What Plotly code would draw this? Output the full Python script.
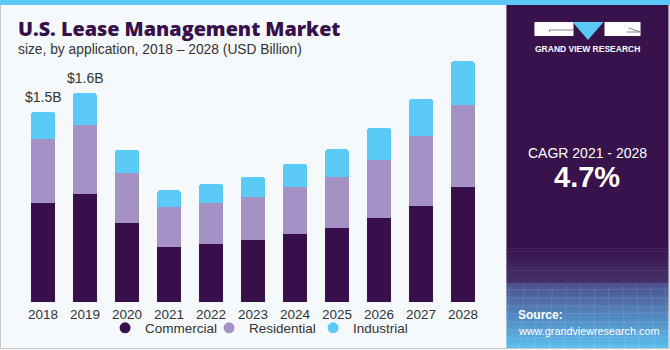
import plotly.graph_objects as go

years = ["2018", "2019", "2020", "2021", "2022", "2023", "2024", "2025", "2026", "2027", "2028"]
commercial = [0.782, 0.849, 0.623, 0.436, 0.455, 0.489, 0.536, 0.583, 0.664, 0.759, 0.906]
residential = [0.503, 0.546, 0.394, 0.310, 0.325, 0.338, 0.368, 0.402, 0.455, 0.549, 0.646]
industrial = [0.215, 0.250, 0.181, 0.134, 0.148, 0.160, 0.186, 0.218, 0.255, 0.294, 0.345]
total_labels = ["$1.5B", "$1.6B", "", "", "", "", "", "", "", "", ""]

C_COM = "#37104B"
C_RES = "#A592C5"
C_IND = "#5CCAF6"
BG = "#F5F9FC"
TXT = "#333333"

WIDTH, HEIGHT = 670, 350
ML, MR, MT, MB = 22, 186.4, 50, 48
PW = WIDTH - ML - MR
PH = HEIGHT - MT - MB


def px(x):
    return (x - ML) / PW


def py(y):
    return (HEIGHT - MB - y) / PH


fig = go.Figure()
for name, vals, col in [("Commercial", commercial, C_COM),
                        ("Residential", residential, C_RES),
                        ("Industrial", industrial, C_IND)]:
    fig.add_trace(go.Bar(x=years, y=vals, name=name, marker=dict(color=col, line=dict(width=0)),
                         showlegend=False, hoverinfo="x+y+name"))
for name, col in [("Commercial", C_COM), ("Residential", C_RES), ("Industrial", C_IND)]:
    fig.add_trace(go.Scatter(x=[None], y=[None], mode="markers", name=name,
                             marker=dict(symbol="circle", size=11, color=col), showlegend=True))

totals = [c + r + i for c, r, i in zip(commercial, residential, industrial)]
annotations = []
for idx, (tot, lab) in enumerate(zip(totals, total_labels)):
    if lab:
        annotations.append(dict(x=idx, y=tot, xref="x", yref="y", text=lab, showarrow=False,
                                yanchor="middle", yshift=15,
                                font=dict(family="Liberation Sans, Arial", size=14, color=TXT)))

# title & subtitle
annotations.append(dict(x=px(16), y=py(28), xref="paper", yref="paper", xanchor="left", yanchor="middle",
                        text="U.S. Lease Management Market", showarrow=False,
                        font=dict(family="Open Sans", size=19.8, color=C_COM, weight=800)))
annotations.append(dict(x=px(16), y=py(49), xref="paper", yref="paper", xanchor="left", yanchor="middle",
                        text="size, by application, 2018 \u2013 2028 (USD Billion)", showarrow=False,
                        font=dict(family="Liberation Sans, Arial", size=13.8, color=TXT)))

# right panel texts
annotations.append(dict(x=px(587), y=py(49), xref="paper", yref="paper", xanchor="center", yanchor="middle",
                        text="<b>GRAND VIEW RESEARCH</b>", showarrow=False,
                        font=dict(family="Liberation Sans, Arial", size=8.5, color="#FFFFFF")))
annotations.append(dict(x=px(587), y=py(153), xref="paper", yref="paper", xanchor="center", yanchor="middle",
                        text="CAGR 2021 - 2028", showarrow=False,
                        font=dict(family="Liberation Sans, Arial", size=14, color="#FFFFFF")))
annotations.append(dict(x=px(587), y=py(177), xref="paper", yref="paper", xanchor="center", yanchor="middle",
                        text="<b>4.7%</b>", showarrow=False,
                        font=dict(family="Liberation Sans, Arial", size=29, color="#FFFFFF")))
annotations.append(dict(x=px(516), y=py(315), xref="paper", yref="paper", xanchor="left", yanchor="middle",
                        text="<b>Source:</b>", showarrow=False,
                        font=dict(family="Liberation Sans, Arial", size=12, color="#FFFFFF")))
annotations.append(dict(x=px(516), y=py(331), xref="paper", yref="paper", xanchor="left", yanchor="middle",
                        text="www.grandviewresearch.com", showarrow=False,
                        font=dict(family="Liberation Sans, Arial", size=10.8, color="#FFFFFF")))

shapes = []


def rect(x0, y0, x1, y1, color, layer="below", line_color=None, lw=0):
    shapes.append(dict(type="rect", xref="paper", yref="paper", x0=px(x0), x1=px(x1), y0=py(y1), y1=py(y0),
                       fillcolor=color, line=dict(width=lw, color=line_color or color), layer=layer))


def hexmix(a, b, t):
    a = [int(a[i:i + 2], 16) for i in (1, 3, 5)]
    b = [int(b[i:i + 2], 16) for i in (1, 3, 5)]
    return "#" + "".join(f"{round(x + (y - x) * t):02X}" for x, y in zip(a, b))


# background & border
rect(0, 0, 670, 350, BG)
# right panel
rect(506, 5, 668, 245, "#37124B")
n = 12
for i in range(n):
    y0 = 245 + i * (283 - 245) / n
    y1 = 245 + (i + 1) * (283 - 245) / n + 0.5
    rect(506, y0, 668, y1, hexmix("#37124B", "#463268", (i + 0.5) / n))
n = 22
for i in range(n):
    y0 = 283 + i * (349 - 283) / n
    y1 = 283 + (i + 1) * (349 - 283) / n + 0.5
    rect(506, y0, 668, min(y1, 349), hexmix("#4A4F8E", "#5AC0F0", (i + 0.5) / n))
# faint grid texture lines
for k in range(8):
    yy = 290 + k * 8
    shapes.append(dict(type="line", xref="paper", yref="paper", x0=px(506), x1=px(668), y0=py(yy), y1=py(yy + (k % 3) - 1),
                       line=dict(color="rgba(255,255,255,0.12)", width=1), layer="below"))
for k in range(12):
    xx = 510 + k * 14
    shapes.append(dict(type="line", xref="paper", yref="paper", x0=px(xx), x1=px(xx - 6 + k), y0=py(286), y1=py(349),
                       line=dict(color="rgba(255,255,255,0.10)", width=1), layer="below"))
# top stripe
rect(0, 0, 670, 5, "#5BC8F5")
# outer border
shapes.append(dict(type="line", xref="paper", yref="paper", x0=px(0.5), x1=px(0.5), y0=py(5), y1=py(349),
                   line=dict(color="#C8C8C8", width=1), layer="below"))
shapes.append(dict(type="line", xref="paper", yref="paper", x0=px(0), x1=px(670), y0=py(348.5), y1=py(348.5),
                   line=dict(color="#C8C8C8", width=1), layer="below"))
shapes.append(dict(type="line", xref="paper", yref="paper", x0=px(669), x1=px(669), y0=py(5), y1=py(349),
                   line=dict(color="#D8D8D8", width=1.5), layer="below"))

# logo
rect(534, 22, 573, 36, "#FFFFFF")
rect(604, 22, 640, 36, "#FFFFFF")
shapes.append(dict(type="path", xref="paper", yref="paper",
                   path=f"M {px(572)},{py(22)} L {px(603)},{py(22)} L {px(587.5)},{py(40)} Z",
                   fillcolor="#5BC8F5", line=dict(width=0), layer="below"))
shapes.append(dict(type="line", xref="paper", yref="paper", x0=px(549), x1=px(573), y0=py(30), y1=py(30),
                   line=dict(color="#8A7F99", width=1), layer="below"))
shapes.append(dict(type="line", xref="paper", yref="paper", x0=px(549), x1=px(549), y0=py(30), y1=py(32),
                   line=dict(color="#8A7F99", width=1), layer="below"))
shapes.append(dict(type="line", xref="paper", yref="paper", x0=px(628), x1=px(640), y0=py(28), y1=py(32),
                   line=dict(color="#8A7F99", width=1), layer="below"))
shapes.append(dict(type="line", xref="paper", yref="paper", x0=px(626), x1=px(640), y0=py(32), y1=py(32),
                   line=dict(color="#8A7F99", width=1), layer="below"))

fig.update_layout(
    width=WIDTH, height=HEIGHT,
    margin=dict(l=ML, r=MR, t=MT, b=MB, pad=0, autoexpand=False),
    paper_bgcolor=BG, plot_bgcolor=BG,
    barmode="stack", bargap=0.44, barcornerradius=2,
    xaxis=dict(type="category", range=[-0.5, 10.5], showgrid=False, zeroline=False, showline=False,
               ticks="", ticklabelstandoff=2, automargin=False,
               tickfont=dict(family="Liberation Sans, Arial", size=13.5, color=TXT), fixedrange=True),
    yaxis=dict(range=[0, PH / 126.9], visible=False, showgrid=False, zeroline=False, fixedrange=True,
               automargin=False),
    showlegend=True,
    legend=dict(orientation="h", x=px(105), y=py(328), xanchor="left", yanchor="middle", traceorder="normal",
                bgcolor="rgba(0,0,0,0)", font=dict(family="Liberation Sans, Arial", size=13.5, color=TXT),
                entrywidth=59, entrywidthmode="pixels", itemclick=False, itemdoubleclick=False),
    annotations=annotations,
    shapes=shapes,
)

fig.write_html("out.html")
